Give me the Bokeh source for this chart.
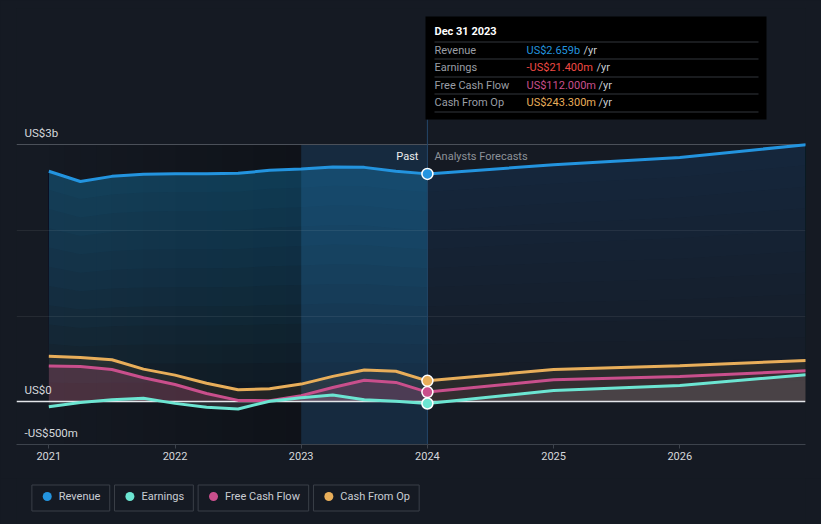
import numpy as np
from bokeh.plotting import figure
from bokeh.models import Range1d, FixedTicker
from bokeh.layouts import column
from bokeh.embed import file_html
from bokeh.resources import INLINE
from bokeh.core.properties import value

# ---------------- data (US$ millions) ----------------
past_dates = [2021.0, 2021.25, 2021.5, 2021.75, 2022.0, 2022.25, 2022.5, 2022.75,
              2023.0, 2023.25, 2023.5, 2023.75, 2024.0]
fc_dates = [2024.0, 2025.0, 2026.0, 2027.0]

revenue_past = [2690, 2570, 2630, 2655, 2660, 2660, 2665, 2700, 2715, 2740, 2735, 2690, 2659]
revenue_fc = [2659, 2766, 2851, 3000]
earnings_past = [-60, -10, 23, 40, -20, -66, -85, 5, 45, 78, 22, 4, -21.4]
earnings_fc = [-21.4, 130, 190, 315]
fcf_past = [415, 410, 375, 280, 200, 95, 15, 10, 70, 165, 250, 225, 112]
fcf_fc = [112, 255, 295, 360]
cfo_past = [530, 515, 490, 380, 310, 215, 140, 150, 205, 295, 370, 355, 243.3]
cfo_fc = [243.3, 375, 420, 480]

series_names = ["Revenue", "Earnings", "Free Cash Flow", "Cash From Op"]
series_colors = ["#2394df", "#6ce5d2", "#c94f8c", "#e8ae5a"]
tooltip_date = "Dec 31 2023"
tooltip_values = ["US$2.659b", "-US$21.400m", "US$112.000m", "US$243.300m"]
tooltip_value_colors = ["#2394df", "#f04a44", "#c94f8c", "#e8ae5a"]

y_ticks = [-500, 0, 3000]
y_tick_labels = ["-US$500m", "US$0", "US$3b"]
faint_grid = [1000, 2000]
x_ticks = [2021, 2022, 2023, 2024, 2025, 2026]
x_tick_labels = ["2021", "2022", "2023", "2024", "2025", "2026"]
highlight = (2023.0, 2024.0)

# ---------------- styling ----------------
BG = "#151a23"
FONT = "Roboto"
FW, FH = 789, 436
X0, X1 = 2020.744, 2026.996
Y0 = -500.0
Y1 = Y0 + FH * 3000.0 / 257.0
PXX = (X1 - X0) / FW
PXY = (Y1 - Y0) / FH


def ix(px):  # image pixel -> data x
    return X0 + (px - 16) * PXX


def iy(py):  # image pixel -> data y
    return Y1 - (py - 8) * PXY


p = figure(width=821, height=478, x_range=Range1d(X0, X1), y_range=Range1d(Y0, Y1),
           output_backend="svg", toolbar_location=None,
           min_border_left=16, min_border_right=16, min_border_top=8, min_border_bottom=34)
p.background_fill_color = BG
p.border_fill_color = BG
p.outline_line_color = None
p.xgrid.visible = False
p.ygrid.visible = False
p.yaxis.visible = False

xa = p.xaxis[0]
xa.ticker = FixedTicker(ticks=x_ticks)
xa.major_label_overrides = {t: l for t, l in zip(x_ticks, x_tick_labels)}
xa.axis_line_color = "#3d434c"
xa.major_tick_line_color = "#3d434c"
xa.major_tick_in = 0
xa.major_tick_out = 4
xa.minor_tick_line_color = None
xa.major_label_text_color = "#d5d8dc"
xa.major_label_text_font = FONT
xa.major_label_text_font_size = "11px"
xa.major_label_standoff = 3

ptop = y_ticks[-1]

# past dark gradient region
n = 16
edges = np.linspace(past_dates[0], highlight[0], n + 1)
p.quad(left=edges[:-1], right=edges[1:], bottom=Y0, top=ptop,
       fill_color="#000000", fill_alpha=np.linspace(0.02, 0.28, n), line_color=None)
# highlighted band
p.quad(left=[highlight[0]], right=[highlight[1]], bottom=Y0, top=ptop,
       fill_color="#1c6099", fill_alpha=0.24, line_color=None)

# revenue gradient fill (many thin layers for a smooth vertical gradient)
for xs, ys, a in [(past_dates, revenue_past, 0.03), (fc_dates, revenue_fc, 0.014)]:
    ys = np.array(ys, dtype=float)
    for f in np.linspace(0.0, 0.92, 12):
        p.varea(x=xs, y1=ys * f, y2=ys, fill_color="#2394df", fill_alpha=a)

# other fills
for xs, ys, a in [(past_dates, cfo_past, 0.09), (fc_dates, cfo_fc, 0.1)]:
    p.varea(x=xs, y1=0, y2=ys, fill_color="#e8ae5a", fill_alpha=a)
for xs, ys, a in [(past_dates, fcf_past, 0.22), (fc_dates, fcf_fc, 0.07)]:
    p.varea(x=xs, y1=0, y2=ys, fill_color="#c94f8c", fill_alpha=a)
for xs, ys in [(past_dates, earnings_past), (fc_dates, earnings_fc)]:
    p.varea(x=xs, y1=0, y2=ys, fill_color="#ffffff", fill_alpha=0.1)

# grid lines
p.hspan(y=faint_grid, line_color="#ffffff", line_alpha=0.07, line_width=1)
p.hspan(y=[ptop], line_color="#4b5059", line_width=1)
p.hspan(y=[0], line_color="#e4e6ea", line_width=1.5)

# vertical "now" line
p.segment(x0=[highlight[1]], y0=[Y0], x1=[highlight[1]], y1=[iy(119)],
          line_color="#24476a", line_width=1)

# series lines
all_series = [(revenue_past, revenue_fc), (earnings_past, earnings_fc),
              (fcf_past, fcf_fc), (cfo_past, cfo_fc)]
for (sp, sf), c in zip(all_series[::-1], series_colors[::-1]):
    p.line(past_dates + fc_dates[1:], sp + sf[1:], line_color=c, line_width=3)
for (sp, sf), c in zip(all_series, series_colors):
    p.scatter([past_dates[-1]], [sp[-1]], size=11, fill_color=c, line_color="#ffffff", line_width=1.5)

# y labels
p.text(x=[X0] * 3, y=y_ticks, text=y_tick_labels, x_offset=8, y_offset=-12,
       text_font=value(FONT), text_font_size="11.5px", text_color="#d5d8dc",
       text_baseline="middle", text_align="left")

# Past / Analysts Forecasts
p.text(x=[highlight[1]], y=[ptop], text=["Past"], x_offset=-9, y_offset=12,
       text_font=value(FONT), text_font_size="11px", text_color="#eeeeee",
       text_baseline="middle", text_align="right")
p.text(x=[highlight[1]], y=[ptop], text=["Analysts Forecasts"], x_offset=7, y_offset=12,
       text_font=value(FONT), text_font_size="11px", text_color="#8d9299",
       text_baseline="middle", text_align="left")

# tooltip box
p.quad(left=[ix(425)], right=[ix(766)], top=[iy(16)], bottom=[iy(119)],
       fill_color="#000000", line_color=None)
p.text(x=[ix(434)], y=[iy(31)], text=[tooltip_date], text_font=value(FONT),
       text_font_size="11px", text_font_style="bold", text_color="#ffffff",
       text_baseline="middle", text_align="left")
sep_y = [41.5, 58.5, 76.5, 93.5, 111.5]
p.segment(x0=[ix(434)] * 5, x1=[ix(758)] * 5, y0=[iy(v) for v in sep_y], y1=[iy(v) for v in sep_y],
          line_color="#33363c", line_width=1)
row_y = [49.5, 67, 84.5, 101.5]
p.text(x=[ix(434)] * 4, y=[iy(v) for v in row_y], text=series_names, text_font=value(FONT),
       text_font_size="11px", text_color="#9a9ea5", text_baseline="middle", text_align="left")
p.text(x=[ix(526)] * 4, y=[iy(v) for v in row_y], text=tooltip_values, text_font=value(FONT),
       text_font_size="11px", text_color=tooltip_value_colors, text_baseline="middle", text_align="left")
yr_x = [583, 596, 598, 598]
p.text(x=[ix(v) for v in yr_x], y=[iy(v) for v in row_y], text=["/yr"] * 4, text_font=value(FONT),
       text_font_size="11px", text_color="#c8ccd2", text_baseline="middle", text_align="left")

# ---------------- legend figure ----------------
lg = figure(width=821, height=46, x_range=Range1d(0, 821), y_range=Range1d(46, 0),
            output_backend="svg", toolbar_location=None, x_axis_type=None, y_axis_type=None,
            min_border=0)
lg.background_fill_color = BG
lg.border_fill_color = BG
lg.outline_line_color = None
lg.xgrid.visible = False
lg.ygrid.visible = False
box_l = [16, 102, 189, 309]
box_r = [97, 184, 304, 419]
lg.quad(left=box_l, right=box_r, top=6.5, bottom=32.5, fill_color=BG, line_color="#3a3f48", line_width=1)
lg.scatter([l + 16 for l in box_l], [18] * 4, size=9, fill_color=series_colors, line_color=None)
lg.text(x=[l + 28 for l in box_l], y=[18] * 4, text=series_names, text_font=value(FONT),
        text_font_size="11px", text_color="#c9cdd3", text_baseline="middle", text_align="left")

layout = column(p, lg, spacing=0)
html = file_html(layout, INLINE)
html = html.replace("</head>", "<style>html,body{margin:0;padding:0;background-color:%s;}</style></head>" % BG, 1)
open("out.html", "w").write(html)
